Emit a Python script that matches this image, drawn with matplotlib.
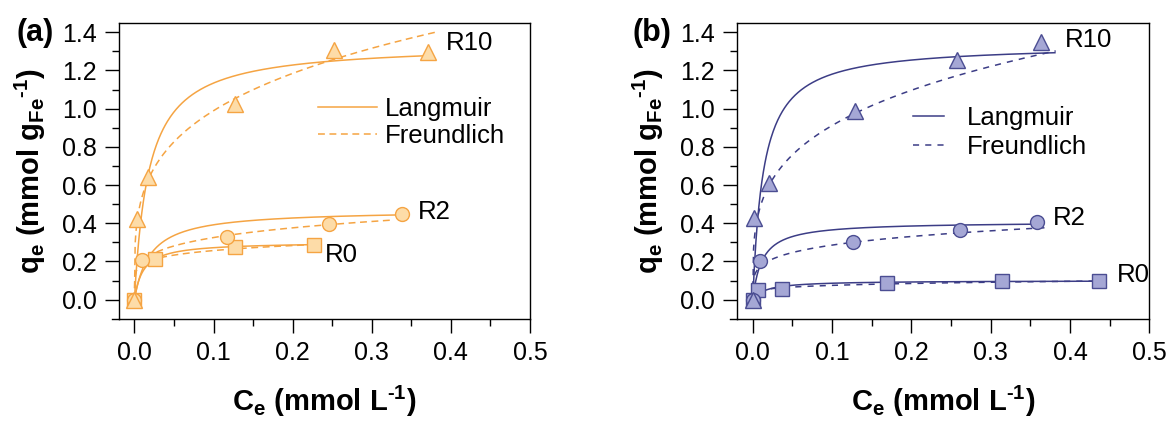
import numpy as np
import matplotlib
matplotlib.use("Agg")
import matplotlib.pyplot as plt
from matplotlib.lines import Line2D

plt.rcParams['font.family'] = ['Liberation Sans', 'DejaVu Sans']
plt.rcParams['mathtext.fontset'] = 'custom'
plt.rcParams['mathtext.rm'] = 'Liberation Sans:bold'
plt.rcParams['mathtext.bf'] = 'Liberation Sans:bold'
plt.rcParams['mathtext.default'] = 'bf'

# ---- measured points (Ce in mmol/L, qe in mmol/gFe)
# panel (a)
a_R0_x = [0.0, 0.0265, 0.127, 0.227]
a_R0_y = [0.0, 0.213, 0.274, 0.288]
a_R2_x = [0.0, 0.0093, 0.117, 0.246, 0.338]
a_R2_y = [0.0, 0.206, 0.328, 0.398, 0.450]
a_R10_x = [0.0, 0.003, 0.0177, 0.127, 0.2525, 0.371]
a_R10_y = [0.0, 0.423, 0.640, 1.025, 1.305, 1.298]
# panel (b)
b_R0_x = [0.0, 0.0063, 0.037, 0.169, 0.314, 0.436]
b_R0_y = [0.0, 0.050, 0.055, 0.085, 0.098, 0.098]
b_R2_x = [0.0, 0.0097, 0.126, 0.261, 0.359]
b_R2_y = [0.0, 0.203, 0.302, 0.363, 0.404]
b_R10_x = [0.0, 0.001, 0.0202, 0.129, 0.258, 0.363]
b_R10_y = [0.0, 0.426, 0.611, 0.986, 1.254, 1.350]

# ---- fitted isotherm parameters
# Langmuir: qm, KL, Ce_end ; Freundlich: KF, 1/n, Ce_end
a_lang = {'R0': (0.302, 90.0, 0.227), 'R2': (0.470, 50.0, 0.338), 'R10': (1.340, 55.0, 0.371)}
a_freu = {'R0': (0.355, 0.1405, 0.227), 'R2': (0.527, 0.21, 0.325), 'R10': (1.800, 0.26, 0.382)}
b_lang = {'R0': (0.100, 60.0, 0.445), 'R2': (0.408, 85.0, 0.365), 'R10': (1.338, 75.0, 0.381)}
b_freu = {'R0': (0.1133, 0.182, 0.450), 'R2': (0.465, 0.212, 0.375), 'R10': (1.682, 0.266, 0.382)}

# label positions (Ce, qe)
a_labels = {'R10': (0.394, 1.342), 'R2': (0.358, 0.458), 'R0': (0.241, 0.232)}
b_labels = {'R10': (0.393, 1.360), 'R2': (0.379, 0.425), 'R0': (0.459, 0.127)}

fig = plt.figure(figsize=(11.70, 4.21), dpi=100)
ax_a = fig.add_axes([0.1017, 0.2430, 0.3513, 0.7031])
ax_b = fig.add_axes([0.6302, 0.2430, 0.3521, 0.7031])


def langmuir(c, qm, k):
    return qm * k * c / (1 + k * c)


def freundlich(c, kf, ninv):
    return kf * c ** ninv


def draw(ax, pts, lang, freu, labels, line_c, face_c, edge_c, dash):
    for key in ['R0', 'R2', 'R10']:
        qm, k, end = lang[key]
        c = np.linspace(0, end, 400)
        ax.plot(c, langmuir(c, qm, k), '-', color=line_c, lw=1.1, zorder=2)
        kf, ninv, end = freu[key]
        c = np.linspace(0, end, 400)
        ax.plot(c, freundlich(c, kf, ninv), '--', color=line_c, lw=1.1,
                dashes=dash, zorder=2)
    marks = {'R0': 's', 'R2': 'o', 'R10': '^'}
    sizes = {'R0': 9.5, 'R2': 10, 'R10': 12}
    for key in ['R0', 'R2', 'R10']:
        x, y = pts[key]
        ax.plot(x, y, linestyle='none', marker=marks[key], ms=sizes[key],
                mfc=face_c, mec=edge_c, mew=1.0, zorder=3)
    for key, (x, y) in labels.items():
        ax.text(x, y, key, fontsize=18.5, ha='left', va='center')

    ax.set_xlim(-0.0195, 0.5)
    ax.set_ylim(-0.1, 1.45)
    ax.set_xticks(np.arange(0, 0.51, 0.1))
    ax.set_xticks(np.arange(0.05, 0.5, 0.1), minor=True)
    ax.set_yticks(np.arange(0, 1.41, 0.2))
    ax.set_yticks(np.arange(0.1, 1.41, 0.2), minor=True)
    ax.set_xticklabels(['0.0', '0.1', '0.2', '0.3', '0.4', '0.5'])
    ax.set_yticklabels(['%.1f' % v for v in np.arange(0, 1.41, 0.2)])
    ax.tick_params(which='major', direction='out', length=10, width=1.0,
                   labelsize=18, pad=6)
    ax.tick_params(which='minor', direction='out', length=5, width=1.0)
    ax.tick_params(top=False, right=False, which='both')
    for s in ax.spines.values():
        s.set_linewidth(1.0)
    # bottom axis line runs a bit past the left spine
    ax.add_line(Line2D([-0.018, 0], [0, 0], transform=ax.transAxes,
                       color='black', lw=1.0, clip_on=False))

    ax.set_xlabel(r'C$_e$ (mmol L$^{\text{-}1}$)', fontsize=21, fontweight='bold')
    ax.set_ylabel(r'q$_e$ (mmol g$_{Fe}$$^{\text{-}1}$)', fontsize=21, fontweight='bold')
    ax.xaxis.set_label_coords(0.5, -0.28)
    ax.xaxis.label.set_va('center')
    ax.yaxis.set_label_coords(-0.215, 0.5)
    ax.yaxis.label.set_va('center')


orange = '#F5A443'
draw(ax_a,
     {'R0': (a_R0_x, a_R0_y), 'R2': (a_R2_x, a_R2_y), 'R10': (a_R10_x, a_R10_y)},
     a_lang, a_freu, a_labels, orange, '#FDDCA8', orange, (4.5, 3.0))
navy = '#3C3D86'
draw(ax_b,
     {'R0': (b_R0_x, b_R0_y), 'R2': (b_R2_x, b_R2_y), 'R10': (b_R10_x, b_R10_y)},
     b_lang, b_freu, b_labels, navy, '#A5A7D5', '#4B4D92', (4.0, 4.0))

# legends
h_a = [Line2D([], [], color=orange, lw=1.1),
       Line2D([], [], color=orange, lw=1.1, ls='--', dashes=(4.5, 3.0))]
ax_a.legend(h_a, ['Langmuir', 'Freundlich'], loc='center left',
            bbox_to_anchor=(0.4835, 0.663), frameon=False, fontsize=18.5,
            borderpad=0, borderaxespad=0, handlelength=2.3,
            handletextpad=0.33, labelspacing=0.15)
h_b = [Line2D([], [], color=navy, lw=1.1),
       Line2D([], [], color=navy, lw=1.1, ls='--', dashes=(4.0, 4.0))]
ax_b.legend(h_b, ['Langmuir', 'Freundlich'], loc='center left',
            bbox_to_anchor=(0.4257, 0.628), frameon=False, fontsize=18.5,
            borderpad=0, borderaxespad=0, handlelength=1.2,
            handletextpad=0.9, labelspacing=0.2)

fig.text(16 / 1170, 1 - 33 / 421, '(a)', fontsize=22, fontweight='bold',
         ha='left', va='center')
fig.text(633 / 1170, 1 - 33 / 421, '(b)', fontsize=22, fontweight='bold',
         ha='left', va='center')

fig.savefig('out.png', dpi=100)
